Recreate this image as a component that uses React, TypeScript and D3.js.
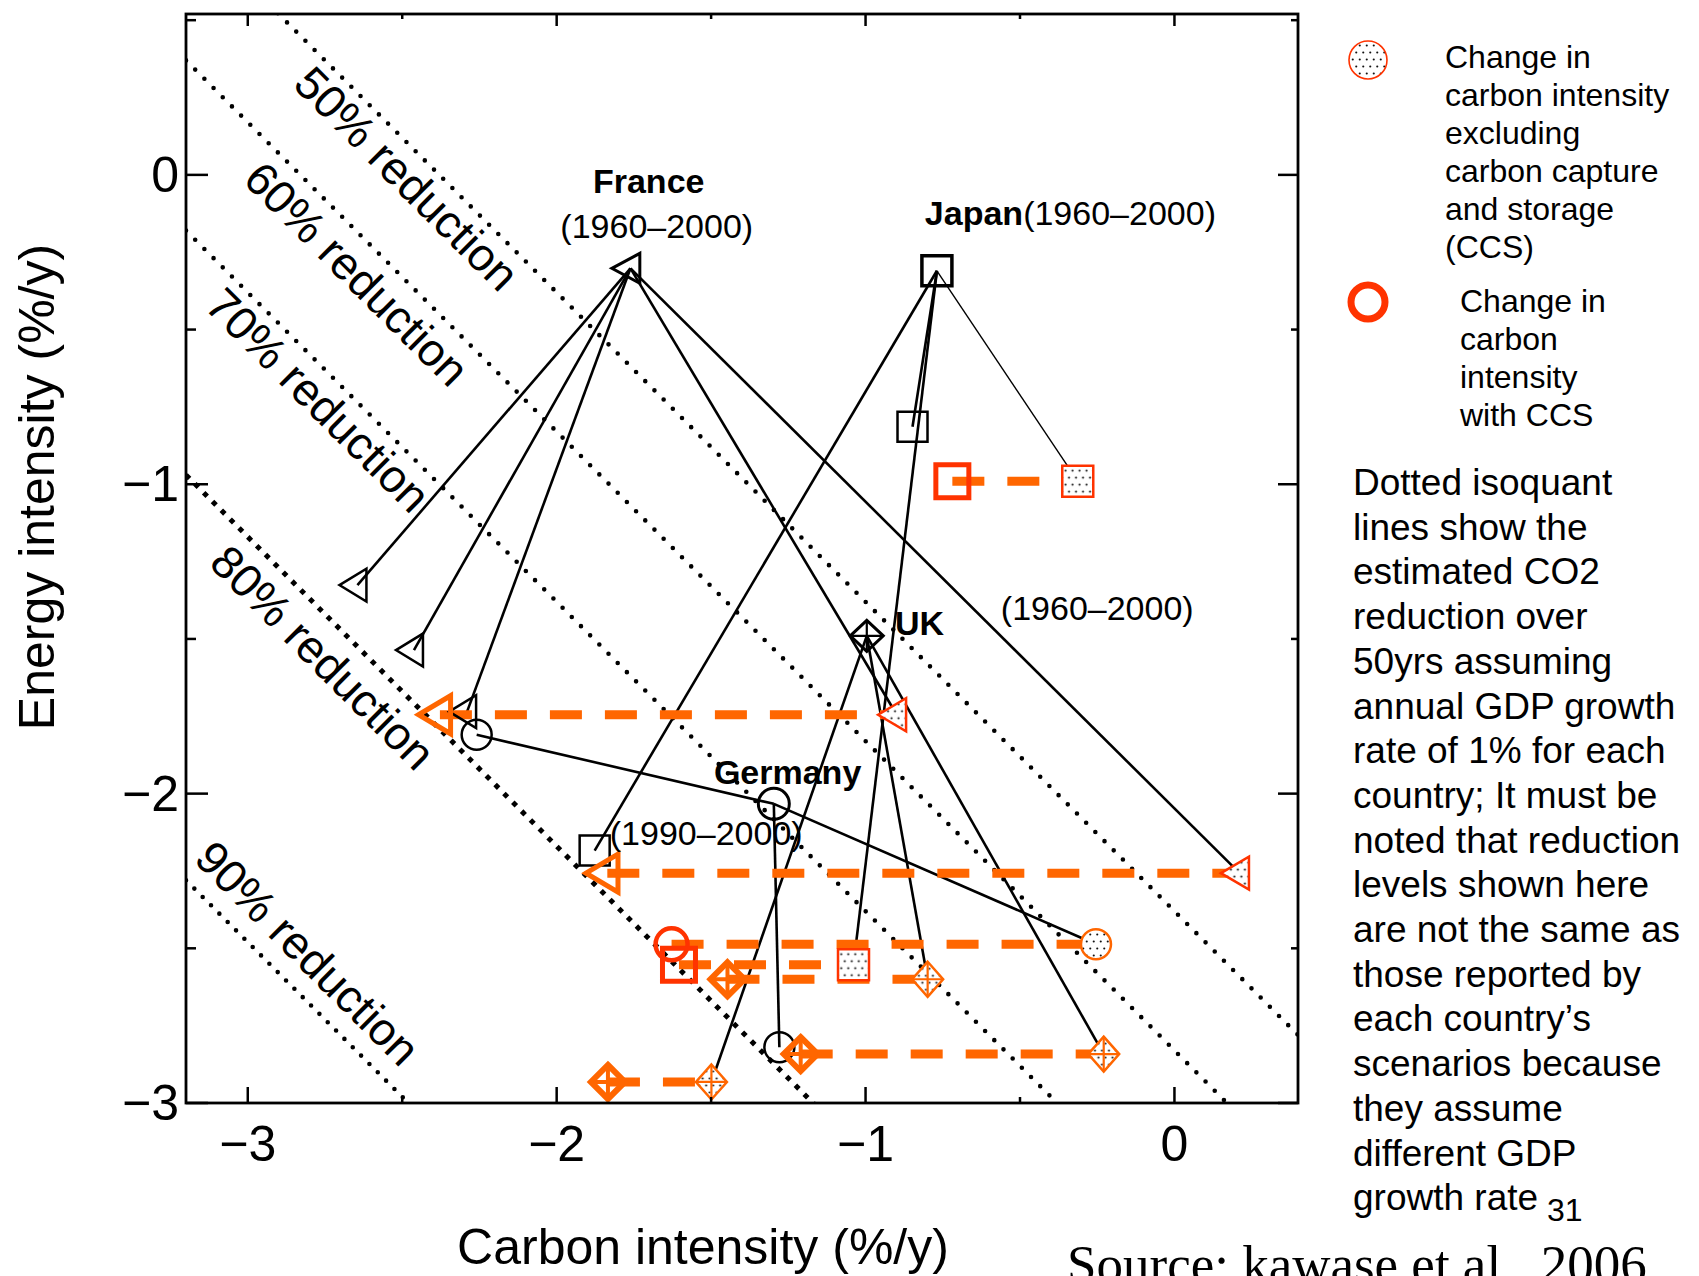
import React from 'react';
import * as d3 from 'd3';

const W = 1699;
const H = 1276;
const plot = { left: 186, right: 1298, top: 14, bottom: 1103 };
const xDomain = [-3.2, 0.4];
const yDomain = [-3, 0.52];

const xMajorTicks = [-3, -2, -1, 0];
const xMinorTicks = [-2.5, -1.5, -0.5];
const yMajorTicks = [0, -1, -2, -3];
const yMinorTicks = [0.5, -0.5, -1.5, -2.5];

// Isoquant lines: energy intensity + carbon intensity = level
const isoLevels = [-2.38, -2.83, -3.38, -4.17, -5.48];
const isoLabels = ['50% reduction', '60% reduction', '70% reduction', '80% reduction', '90% reduction'];
const isoLabelX = [-2.485, -2.647, -2.772, -2.757, -2.806];
const isoLabelY = [-0.012, -0.32, -0.728, -1.56, -2.516];

// Historical points (1960–2000 / 1990–2000)
const countries = ['France', 'Japan', 'UK', 'Germany'];
const shapes = ['triangle', 'square', 'diamond', 'circle'];
const historyX = [-1.761, -0.769, -0.996, -1.297];
const historyY = [-0.302, -0.31, -1.49, -2.033];

// Scenario points (black, open)
const scenCountry = [0, 0, 0, 1, 1, 3, 3];
const scenX = [-2.645, -2.462, -2.29, -0.848, -1.877, -2.259, -1.279];
const scenY = [-1.326, -1.536, -1.735, -0.814, -2.184, -1.81, -2.82];

// Scenarios with carbon intensity excluding CCS (dotted) and with CCS (open orange)
const ccsCountry = [0, 0, 1, 1, 2, 2, 2, 3];
const exclX = [-0.899, 0.211, -0.313, -1.039, -0.799, -0.229, -1.499, -0.254];
const withX = [-2.378, -1.836, -0.719, -1.604, -1.447, -1.21, -1.834, -1.628];
const ccsY = [-1.745, -2.257, -0.99, -2.553, -2.6, -2.842, -2.932, -2.487];
const ccsLineW = [2.5, 2.5, 1.4, 2.5, 2.5, 2.5, 2.5, 2.5];

const noteLines = [
  'Dotted isoquant',
  'lines show the',
  'estimated CO2',
  'reduction over',
  '50yrs assuming',
  'annual GDP growth',
  'rate of 1% for each',
  'country; It must be',
  'noted that reduction',
  'levels shown here',
  'are not the same as',
  'those reported by',
  'each country\u2019s',
  'scenarios because',
  'they assume',
  'different GDP',
  'growth rate',
];
const legend1 = ['Change in', 'carbon intensity', 'excluding', 'carbon capture', 'and storage', '(CCS)'];
const legend2 = ['Change in', 'carbon', 'intensity', 'with CCS'];

const RED = '#FF3300';
const ORANGE = '#FF6600';
const FONT = '"Liberation Sans", Arial, Helvetica, sans-serif';

const fmt = (v: number) => (v < 0 ? '\u2212' + Math.abs(v) : String(v));

function markerPath(shape: string, kind: string): { d: string; extra?: string } {
  let w = 27, h = 33, s = 30, hw = 16, hh = 15;
  if (kind === 'ccs') { w = 32; h = 38; s = 33; hw = 17; hh = 17; }
  if (kind === 'excl') { w = 28; h = 33; s = 31; hw = 15.5; hh = 17.5; }
  if (kind === 'hist') { w = 28; h = 30; s = 30; hw = 16.5; hh = 15.5; }
  if (shape === 'triangle') {
    return { d: `M${-(2 * w) / 3},0L${w / 3},${-h / 2}L${w / 3},${h / 2}Z` };
  }
  if (shape === 'square') {
    return { d: `M${-s / 2},${-s / 2}h${s}v${s}h${-s}Z` };
  }
  if (shape === 'diamond') {
    return {
      d: `M0,${-hh}L${hw},0L0,${hh}L${-hw},0Z`,
      extra: `M0,${-hh}V${hh}M${-hw},0H${hw}`,
    };
  }
  return { d: '' };
}

function Marker({ shape, x, y, kind }: { shape: string; x: number; y: number; kind: string }) {
  let stroke = '#000';
  let sw = 2.5;
  let fill = 'none';
  if (kind === 'hist') sw = shape === 'square' ? 3.5 : 3;
  if (kind === 'ccs') {
    stroke = shape === 'triangle' || shape === 'diamond' ? ORANGE : RED;
    sw = shape === 'diamond' ? 6 : 5;
  }
  if (kind === 'excl') {
    stroke = shape === 'diamond' || shape === 'circle' ? ORANGE : RED;
    sw = 2.5;
    fill = 'url(#dots)';
  }
  if (shape === 'circle') {
    const r = kind === 'ccs' ? 16 : kind === 'hist' ? 15.5 : 15;
    return <circle cx={x} cy={y} r={r} fill={fill} stroke={stroke} strokeWidth={kind === 'ccs' ? 4.5 : sw} />;
  }
  const p = markerPath(shape, kind);
  return (
    <g transform={`translate(${x},${y})`}>
      <path d={p.d} fill={fill} stroke={stroke} strokeWidth={sw} strokeLinejoin="miter" />
      {p.extra && <path d={p.extra} fill="none" stroke={stroke} strokeWidth={kind === 'ccs' ? 4 : 2.2} />}
    </g>
  );
}

export default function App() {
  const x = d3.scaleLinear().domain(xDomain).range([plot.left, plot.right]);
  const y = d3.scaleLinear().domain(yDomain).range([plot.bottom, plot.top]);
  const line = d3
    .line<[number, number]>()
    .x((d) => x(d[0]))
    .y((d) => y(d[1]));

  return (
    <div style={{ position: 'absolute', left: 0, top: 0, width: W, height: H, overflow: 'hidden', background: '#fff' }}>
      <svg width={W} height={H} style={{ display: 'block' }} fontFamily={FONT}>
        <defs>
          <clipPath id="plotclip">
            <rect x={plot.left} y={plot.top} width={plot.right - plot.left} height={plot.bottom - plot.top} />
          </clipPath>
          <pattern id="dots" width={7} height={14} patternUnits="userSpaceOnUse">
            <rect width={7} height={14} fill="#fff" />
            <circle cx={1.75} cy={3.5} r={1.05} fill="#111" />
            <circle cx={5.25} cy={10.5} r={1.05} fill="#111" />
          </pattern>
        </defs>
        <rect width={W} height={H} fill="#fff" />

        {/* isoquant lines */}
        <g clipPath="url(#plotclip)">
          {isoLevels.map((s, i) => (
            <path
              key={i}
              d={line([
                [xDomain[0], s - xDomain[0]],
                [xDomain[1], s - xDomain[1]],
              ]) as string}
              fill="none"
              stroke="#000"
              strokeWidth={i === 3 ? 5 : 4.6}
              strokeLinecap={i === 3 ? 'butt' : 'round'}
              strokeDasharray={i === 3 ? '5 7.5' : i === 4 ? '0 11.8' : '0 13'}
            />
          ))}
        </g>
        {isoLabels.map((t, i) => (
          <text
            key={i}
            transform={`translate(${x(isoLabelX[i])},${y(isoLabelY[i])}) rotate(45)`}
            textAnchor="middle"
            dominantBaseline="central"
            fontSize={46}
          >
            {t}
          </text>
        ))}

        {/* black connecting lines */}
        {scenX.map((sx, i) => {
          const c = scenCountry[i];
          return (
            <path
              key={'s' + i}
              d={line([
                [historyX[c], historyY[c]],
                [sx, scenY[i]],
              ]) as string}
              stroke="#000"
              strokeWidth={2.6}
              fill="none"
            />
          );
        })}
        {exclX.map((ex, i) => {
          const c = ccsCountry[i];
          return (
            <path
              key={'e' + i}
              d={line([
                [historyX[c], historyY[c]],
                [ex, ccsY[i]],
              ]) as string}
              stroke="#000"
              strokeWidth={ccsLineW[i] === 2.5 ? 2.6 : ccsLineW[i]}
              fill="none"
            />
          );
        })}

        {/* orange dashed lines: with CCS -> excluding CCS */}
        {withX.map((wx, i) => (
          <path
            key={'d' + i}
            d={line([
              [wx, ccsY[i]],
              [exclX[i], ccsY[i]],
            ]) as string}
            stroke={ORANGE}
            strokeWidth={9}
            strokeDasharray="32 23"
            fill="none"
          />
        ))}

        {/* markers */}
        {scenX.map((sx, i) => (
          <Marker key={'ms' + i} shape={shapes[scenCountry[i]]} x={x(sx)} y={y(scenY[i])} kind="black" />
        ))}
        {withX.map((wx, i) => (
          <Marker key={'mw' + i} shape={shapes[ccsCountry[i]]} x={x(wx)} y={y(ccsY[i])} kind="ccs" />
        ))}
        {exclX.map((ex, i) => (
          <Marker key={'me' + i} shape={shapes[ccsCountry[i]]} x={x(ex)} y={y(ccsY[i])} kind="excl" />
        ))}
        {historyX.map((hx, i) => (
          <Marker key={'mh' + i} shape={shapes[i]} x={x(hx)} y={y(historyY[i])} kind="hist" />
        ))}

        {/* country labels */}
        <g fontSize={34}>
          <text x={x(-1.702)} y={y(-0.059)} textAnchor="middle" fontWeight="bold">
            {countries[0]}
          </text>
          <text x={x(-1.676)} y={y(-0.204)} textAnchor="middle">
            (1960–2000)
          </text>
          <text x={x(-0.808)} y={y(-0.162)}>
            <tspan fontWeight="bold">{countries[1]}</tspan>
            <tspan>(1960–2000)</tspan>
          </text>
          <text x={x(-0.905)} y={y(-1.487)} fontWeight="bold">
            {countries[2]}
          </text>
          <text x={x(-0.562)} y={y(-1.439)}>
            (1960–2000)
          </text>
          <text x={x(-1.491)} y={y(-1.969)} fontWeight="bold">
            {countries[3]}
          </text>
          <text x={x(-1.828)} y={y(-2.166)}>
            (1990–2000)
          </text>
        </g>

        {/* frame & ticks */}
        <rect
          x={plot.left}
          y={plot.top}
          width={plot.right - plot.left}
          height={plot.bottom - plot.top}
          fill="none"
          stroke="#000"
          strokeWidth={2.8}
        />
        {xMajorTicks.map((t) => (
          <g key={'xt' + t}>
            <line x1={x(t)} x2={x(t)} y1={plot.bottom} y2={plot.bottom - 16} stroke="#000" strokeWidth={2.5} />
            <line x1={x(t)} x2={x(t)} y1={plot.top} y2={plot.top + 12} stroke="#000" strokeWidth={2.5} />
            <text x={x(t)} y={1161} textAnchor="middle" fontSize={50}>
              {fmt(t)}
            </text>
          </g>
        ))}
        {xMinorTicks.map((t) => (
          <g key={'xm' + t}>
            <line x1={x(t)} x2={x(t)} y1={plot.bottom} y2={plot.bottom - 6} stroke="#000" strokeWidth={2.5} />
            <line x1={x(t)} x2={x(t)} y1={plot.top} y2={plot.top + 5} stroke="#000" strokeWidth={2.5} />
          </g>
        ))}
        {yMajorTicks.map((t) => (
          <g key={'yt' + t}>
            <line x1={plot.left} x2={plot.left + 22} y1={y(t)} y2={y(t)} stroke="#000" strokeWidth={2.5} />
            <line x1={plot.right} x2={plot.right - 20} y1={y(t)} y2={y(t)} stroke="#000" strokeWidth={2.5} />
            <text x={179} y={y(t)} textAnchor="end" dominantBaseline="central" fontSize={50}>
              {fmt(t)}
            </text>
          </g>
        ))}
        {yMinorTicks.map((t) => (
          <g key={'ym' + t}>
            <line x1={plot.left} x2={plot.left + 10} y1={y(t)} y2={y(t)} stroke="#000" strokeWidth={2.5} />
            <line x1={plot.right} x2={plot.right - 7} y1={y(t)} y2={y(t)} stroke="#000" strokeWidth={2.5} />
          </g>
        ))}

        {/* axis titles */}
        <text x={703} y={1264} textAnchor="middle" fontSize={50}>
          Carbon intensity (%/y)
        </text>
        <text transform="translate(54,487) rotate(-90)" textAnchor="middle" fontSize={50}>
          Energy intensity (%/y)
        </text>

        {/* legend */}
        <circle cx={1368} cy={60} r={19} fill="url(#dots)" stroke={RED} strokeWidth={1.6} />
        <g fontSize={32}>
          {legend1.map((t, i) => (
            <text key={'l1' + i} x={1445} y={68 + i * 38}>
              {t}
            </text>
          ))}
        </g>
        <circle cx={1368} cy={302} r={17} fill="none" stroke={RED} strokeWidth={7} />
        <g fontSize={32}>
          {legend2.map((t, i) => (
            <text key={'l2' + i} x={1460} y={312 + i * 38}>
              {t}
            </text>
          ))}
        </g>

        {/* note */}
        <g fontSize={37}>
          {noteLines.map((t, i) => (
            <text key={'n' + i} x={1353} y={495 + i * 44.7}>
              {t}
            </text>
          ))}
        </g>
        <text x={1547} y={1221} fontSize={32}>
          31
        </text>
        <text x={1067} y={1282} fontSize={53} fontFamily='"Liberation Serif", "Times New Roman", serif'>
          Source: kawase et al., 2006
        </text>
      </svg>
    </div>
  );
}
